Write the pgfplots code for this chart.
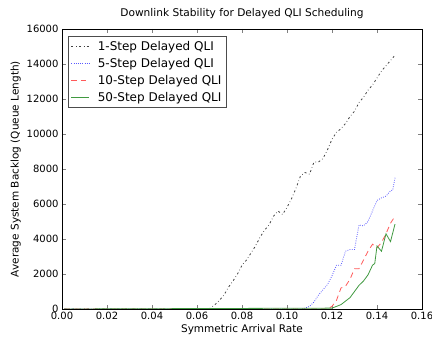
\documentclass[border=0pt]{standalone}
\usepackage{pgfplots}
\pgfplotsset{compat=1.18}
\usepackage{fontspec}
\setmainfont{DejaVu Sans}
\definecolor{mblue}{rgb}{0.35,0.35,1}
\definecolor{mred}{rgb}{1,0.35,0.35}
\definecolor{mgreen}{rgb}{0.25,0.6,0.25}
\begin{document}
\begin{tikzpicture}
\path[use as bounding box] (0,0) rectangle (432bp,343bp);
\begin{axis}[
  at={(62bp,34bp)}, anchor=south west,
  scale only axis, width=360bp, height=280bp,
  xmin=0, xmax=0.16, ymin=0, ymax=16000,
  xtick={0,0.02,...,0.16},
  ytick={0,2000,...,16000},
  tick align=inside,
  xtick pos=both, ytick pos=both,
  major tick length=4bp,
  /pgf/number format/assume math mode=true,
  xticklabel style={/pgf/number format/.cd,fixed,fixed zerofill,precision=2},
  yticklabel style={/pgf/number format/.cd,fixed,1000 sep={}},
  scaled x ticks=false, scaled y ticks=false,
  tick label style={font=\fontsize{10bp}{12bp}\selectfont},
  label style={font=\fontsize{10.5bp}{12bp}\selectfont},
  title style={font=\fontsize{10.6bp}{12bp}\selectfont, yshift=1bp},
  title={Downlink Stability for Delayed QLI Scheduling},
  xlabel={Symmetric Arrival Rate},
  ylabel={Average System Backlog (Queue Length)},
  xlabel style={yshift=2bp},
  ylabel style={yshift=-1bp},
  legend style={at={(0.017,0.975)}, anchor=north west,
    font=\fontsize{12bp}{14bp}\selectfont, draw=black!70, line width=0.8pt,
    row sep=2.5bp, inner sep=2.5bp,
    /tikz/every odd column/.append style={column sep=6bp}},
  legend cell align=left,
  legend image code/.code={\draw[#1] (0bp,0bp) -- (18bp,0bp);},
  axis line style={line width=0.6pt},
]
\addplot[black!75, line width=0.8pt, dash pattern=on 2bp off 2.5bp on 0.6bp off 2.5bp] coordinates {
(0.001,0) (0.065,0) (0.066,50) (0.068,250) (0.070,500) (0.072,800) (0.074,1250)
(0.076,1600) (0.078,2000) (0.080,2500) (0.082,2800) (0.084,3200) (0.086,3600)
(0.088,4100) (0.090,4500) (0.092,4800) (0.094,5300) (0.096,5600) (0.098,5400)
(0.100,5800) (0.102,6300) (0.104,6900) (0.106,7600) (0.108,7800) (0.110,7700)
(0.112,8400) (0.114,8400) (0.116,8600) (0.118,9100) (0.120,9700) (0.122,10100)
(0.124,10300) (0.126,10600) (0.128,11000) (0.130,11300) (0.132,11800) (0.134,12100)
(0.136,12500) (0.138,12800) (0.140,13200) (0.142,13600) (0.144,13900) (0.146,14200)
(0.148,14500)};
\addlegendentry{1-Step Delayed QLI}
\addplot[mblue, line width=0.8pt, dash pattern=on 0.8bp off 1.4bp] coordinates {
(0.001,0) (0.106,0) (0.108,50) (0.110,150) (0.112,400) (0.114,800) (0.116,1100)
(0.118,1400) (0.120,1900) (0.122,2500) (0.124,2500) (0.126,3300) (0.128,3400)
(0.130,3400) (0.132,4800) (0.134,4750) (0.136,5000) (0.138,5600) (0.140,6200)
(0.142,6350) (0.144,6450) (0.146,6750) (0.147,6800) (0.148,7500)};
\addlegendentry{5-Step Delayed QLI}
\addplot[mred, line width=0.8pt, dash pattern=on 5.5bp off 4bp] coordinates {
(0.001,0) (0.118,0) (0.120,150) (0.122,500) (0.124,1200) (0.126,1300) (0.128,1700)
(0.130,2300) (0.132,2300) (0.134,2800) (0.136,3300) (0.138,3700) (0.140,3500)
(0.142,3800) (0.144,4300) (0.146,4900) (0.148,5300)};
\addlegendentry{10-Step Delayed QLI}
\addplot[mgreen, line width=0.8pt] coordinates {
(0.001,0) (0.120,50) (0.122,150) (0.124,250) (0.126,450) (0.128,650) (0.130,1000)
(0.132,1350) (0.134,1600) (0.136,1950) (0.138,2500) (0.139,2600) (0.140,3600)
(0.142,3300) (0.144,4300) (0.146,3850) (0.148,4850)};
\addlegendentry{50-Step Delayed QLI}
\end{axis}
\end{tikzpicture}
\end{document}
